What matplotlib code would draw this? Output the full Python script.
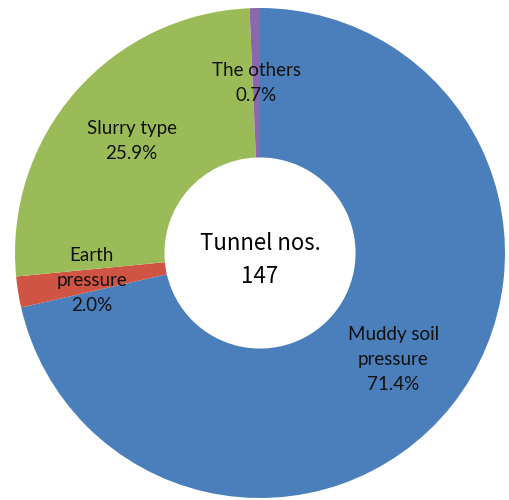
import matplotlib
matplotlib.use("Agg")
import matplotlib.pyplot as plt
import numpy as np

# tunnel counts per shield type (147 in total)
categories = ["Muddy soil\npressure", "Earth\npressure", "Slurry type", "The others"]
counts = [105, 3, 38, 1]
colors = ["#4A7FBC", "#CF5444", "#9BBB59", "#8B68AE"]
center_text = "Tunnel nos.\n147"

total = sum(counts)

fig = plt.figure(figsize=(5.09, 5.0), dpi=100)
ax = fig.add_axes([0, 0, 1, 1])

R = 245
wedges, _ = ax.pie(counts, colors=colors, startangle=90, counterclock=False,
                   radius=R, wedgeprops=dict(width=R * 0.61, linewidth=0))

# slice labels, placed at the middle angle of each wedge
for w, name, c in zip(wedges, categories, counts):
    ang = np.deg2rad((w.theta1 + w.theta2) / 2)
    r = 0.695 * R
    ax.text(r * np.cos(ang), r * np.sin(ang), "{}\n{:.1f}%".format(name, c / total * 100),
            ha="center", va="center", fontsize=13.5, family="Lato",
            linespacing=1.58, color="#111111")

ax.text(0, -7, center_text, ha="center", va="center", fontsize=16,
        family=["Noto Sans CJK JP", "DejaVu Sans"], linespacing=1.55)

ax.set_xlim(-260, 249)
ax.set_ylim(-247, 253)
ax.set_aspect("equal")
ax.axis("off")

fig.savefig("out.png", dpi=100)
